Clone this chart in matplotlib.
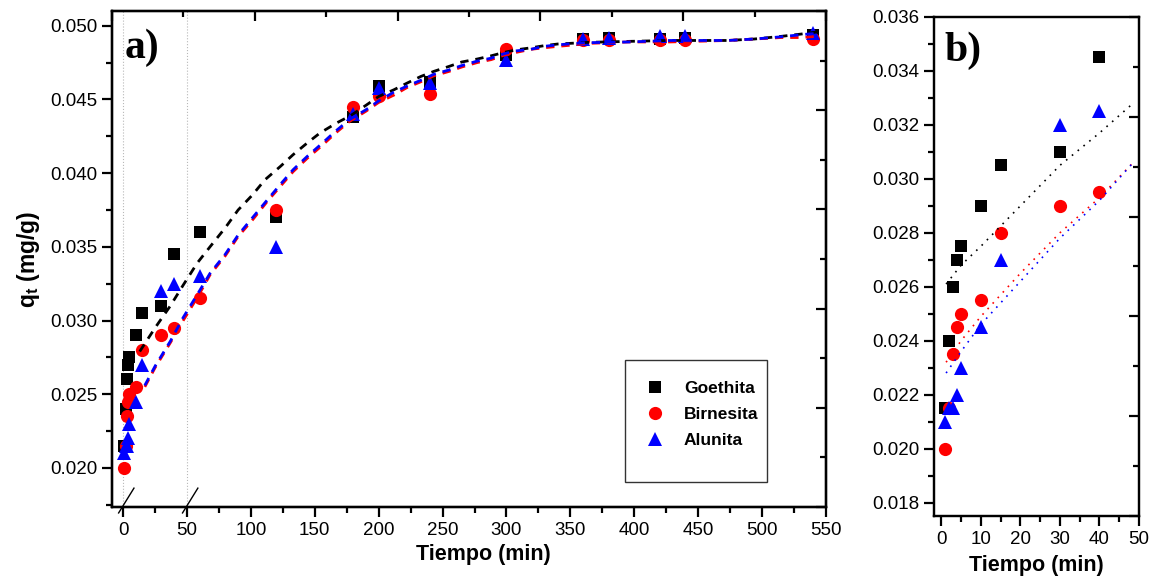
import matplotlib
matplotlib.use("Agg")
import matplotlib.pyplot as plt
from matplotlib.ticker import MultipleLocator, FormatStrFormatter
from matplotlib.lines import Line2D
import matplotlib.transforms as mtransforms

plt.rcParams["font.family"] = ["Liberation Sans", "DejaVu Sans"]
plt.rcParams["mathtext.fontset"] = "custom"
plt.rcParams["mathtext.rm"] = "Liberation Sans"
plt.rcParams["mathtext.bf"] = "Liberation Sans:bold"

# measured data (time in min, q_t in mg/g)
tiempo = [1, 2, 3, 4, 5, 10, 15, 30, 40, 60, 120, 180, 200, 240, 300, 360, 380, 420, 440, 540]
goethita = [0.0215, 0.0240, 0.0260, 0.0270, 0.0275, 0.0290, 0.0305, 0.0310, 0.0345, 0.0360,
            0.0370, 0.0438, 0.0459, 0.0462, 0.0480, 0.0491, 0.0492, 0.0491, 0.0492, 0.0494]
birnesita = [0.0200, 0.0215, 0.0235, 0.0245, 0.0250, 0.0255, 0.0280, 0.0290, 0.0295, 0.0315,
             0.0375, 0.0445, 0.0452, 0.0454, 0.0484, 0.0490, 0.0490, 0.0490, 0.0490, 0.0491]
alunita = [0.0210, 0.0215, 0.0215, 0.0220, 0.0230, 0.0245, 0.0270, 0.0320, 0.0325, 0.0330,
           0.0350, 0.0440, 0.0458, 0.0461, 0.0477, 0.0491, 0.0492, 0.0493, 0.0493, 0.0495]

# fitted curves
t_fit_goe = [13, 25, 37, 47, 58, 68, 80, 90, 101, 111, 123, 133, 144, 154, 167, 178, 190, 200,
             212, 222, 233, 243, 255, 265, 277, 288, 298, 308, 319, 329, 340, 353, 363, 396,
             428, 473, 494, 515, 531, 545]
fit_goe = [0.0279, 0.0295, 0.0310, 0.0324, 0.0339, 0.0350, 0.0363, 0.0375, 0.0385, 0.03955,
           0.04045, 0.04125, 0.04204, 0.04272, 0.0434, 0.0439, 0.0446, 0.0452, 0.04566, 0.0461,
           0.04656, 0.0469, 0.04724, 0.04754, 0.04774, 0.04796, 0.04819, 0.04837, 0.0485,
           0.04864, 0.04876, 0.04882, 0.04887, 0.04894, 0.0490, 0.0490, 0.0491, 0.04928,
           0.04944, 0.0496]
t_fit = [17, 25, 37, 47, 59, 68, 80, 90, 101, 113, 124, 133, 144, 156, 166, 177, 190, 200, 212,
         222, 233, 243, 255, 265, 277, 288, 298, 308, 319, 329, 340, 353, 363, 396, 428, 473,
         494, 515, 531, 545]
fit_bir = [0.0255, 0.0268, 0.0285, 0.0300, 0.0317, 0.0331, 0.0344, 0.0357, 0.0368, 0.0381,
           0.0392, 0.0401, 0.0410, 0.0419, 0.0427, 0.0435, 0.0442, 0.0448, 0.0453, 0.0458,
           0.0462, 0.0466, 0.0469, 0.0472, 0.0475, 0.0477, 0.0480, 0.0482, 0.0484, 0.0485,
           0.0486, 0.0487, 0.0488, 0.0489, 0.0489, 0.0490, 0.0491, 0.0492, 0.0492, 0.0493]
fit_alu = [0.0256, 0.0269, 0.0286, 0.0302, 0.0319, 0.0332, 0.0345, 0.0358, 0.03695, 0.0382,
           0.03933, 0.04023, 0.04113, 0.04204, 0.04283, 0.04362, 0.0443, 0.0449, 0.0455, 0.0459,
           0.0463, 0.0467, 0.0470, 0.0473, 0.0476, 0.0478, 0.0481, 0.0483, 0.0484, 0.0486,
           0.0487, 0.0488, 0.04885, 0.0489, 0.0490, 0.0490, 0.0491, 0.04925, 0.0494, 0.0495]

# linear-region fits
t_lin = [1.2, 5, 10, 20, 30, 40, 48.5]
lin_goe = [0.0261, 0.0268, 0.0275, 0.0290, 0.0305, 0.0317, 0.0328]
lin_bir = [0.0232, 0.0240, 0.0249, 0.0265, 0.0280, 0.0293, 0.0306]
lin_alu = [0.0228, 0.0236, 0.0246, 0.0262, 0.0278, 0.0292, 0.0306]

n_b = 9  # points with t <= 40 shown in panel b

fig = plt.figure(figsize=(11.58, 5.82), dpi=100)
ax = fig.add_axes([0.0967, 0.1289, 0.6166, 0.8522])
axb = fig.add_axes([0.8066, 0.1134, 0.1770, 0.8574])

mk = dict(linestyle="none", markeredgewidth=0)
styles = [("s", "black", 8.5, "Goethita"), ("o", "red", 9.5, "Birnesita"), ("^", "blue", 10, "Alunita")]
series = [goethita, birnesita, alunita]

# ---- panel a ----
for x0 in (0, 50):
    ax.axvline(x0, color="#b8b8b8", lw=0.8, ls=":", zorder=0)
for (m, c, s, lab), y in zip(styles, series):
    ax.plot(tiempo, y, marker=m, color=c, markersize=s, label=lab, zorder=3, **mk)
ax.plot(t_fit_goe, fit_goe, color="black", lw=2, ls=(0, (3, 2.5)), zorder=4)
ax.plot(t_fit, fit_bir, color="red", lw=2, ls=(0, (3, 2.5)), zorder=4)
ax.plot(t_fit, fit_alu, color="blue", lw=2, ls=(0, (3, 2.5)), zorder=4)

ax.set_xlim(-8.7, 550)
ax.set_ylim(0.01735, 0.05100)
ax.xaxis.set_major_locator(MultipleLocator(50))
ax.xaxis.set_minor_locator(MultipleLocator(25))
ax.yaxis.set_major_locator(MultipleLocator(0.005))
ax.yaxis.set_minor_locator(MultipleLocator(0.0025))
ax.yaxis.set_major_formatter(FormatStrFormatter("%.3f"))
ax.set_xlabel("Tiempo (min)", fontsize=15.5, fontweight="bold")
ax.xaxis.set_label_coords(0.52, -0.075)
ax.set_ylabel(r"$\mathbf{q}_\mathbf{t}$ (mg/g)", fontsize=16.5, fontweight="bold", labelpad=6)
ax.text(0.018, 0.965, "a)", transform=ax.transAxes, fontsize=30, fontweight="bold",
        family="Liberation Serif", va="top", ha="left")

# axis break marks
trans = mtransforms.blended_transform_factory(ax.transData, ax.transAxes)
for x0 in (0, 50):
    ax.add_line(Line2D([x0 - 3.5, x0 + 8.5], [-0.012, 0.038], transform=trans,
                       color="black", lw=1, clip_on=False))

handles = [Line2D([], [], marker=m, color=c, markersize=s, **mk) for m, c, s, _ in styles]
handles.append(Line2D([], [], linestyle="none"))
labels = [lab for _, _, _, lab in styles] + [" "]
leg = ax.legend(handles, labels, loc="upper left", bbox_to_anchor=(0.7185, 0.296),
                frameon=True, fancybox=False, edgecolor="black", borderpad=0.5,
                handletextpad=0.5, labelspacing=0.62, prop=dict(weight="bold", size=12.5),
                borderaxespad=0, handlelength=2.4, title=" ", title_fontsize=1.5)
leg.get_frame().set_linewidth(1)

# ---- panel b ----
for (m, c, s, lab), y in zip(styles, series):
    axb.plot(tiempo[:n_b], y[:n_b], marker=m, color=c, markersize=s, zorder=3, **mk)
axb.plot(t_lin, lin_goe, color="black", lw=1.2, ls=(0, (1, 3.5)), zorder=4)
axb.plot(t_lin, lin_bir, color="red", lw=1.2, ls=(0, (1, 3.5)), zorder=4)
axb.plot(t_lin, lin_alu, color="blue", lw=1.2, ls=(0, (1, 3.5)), zorder=4)

axb.set_xlim(-1.85, 50)
axb.set_ylim(0.0175, 0.036)
axb.xaxis.set_major_locator(MultipleLocator(10))
axb.xaxis.set_minor_locator(MultipleLocator(5))
axb.yaxis.set_major_locator(MultipleLocator(0.002))
axb.yaxis.set_minor_locator(MultipleLocator(0.001))
axb.yaxis.set_major_formatter(FormatStrFormatter("%.3f"))
axb.set_xlabel("Tiempo (min)", fontsize=15.5, fontweight="bold", labelpad=5)
axb.text(0.05, 0.97, "b)", transform=axb.transAxes, fontsize=30, fontweight="bold",
         family="Liberation Serif", va="top", ha="left")

for a in (ax, axb):
    for sp in a.spines.values():
        sp.set_linewidth(1.6)
    a.tick_params(which="major", direction="out", length=7, width=1.6, labelsize=13.5)
    a.tick_params(which="minor", direction="out", length=4, width=1.6)

# opposite-side inward ticks (Origin style)
ra = ax.twinx()
ra.set_ylim(0, 5)
ra.yaxis.set_major_locator(MultipleLocator(1))
ra.yaxis.set_minor_locator(MultipleLocator(0.5))
ta = ax.twiny()
ta.set_xlim(0, 10)
ta.xaxis.set_major_locator(MultipleLocator(2))
ta.xaxis.set_minor_locator(MultipleLocator(1))
rb = axb.twinx()
rb.set_ylim(0, 10)
rb.yaxis.set_major_locator(MultipleLocator(2))
rb.yaxis.set_minor_locator(MultipleLocator(1))
for a in (ra, ta, rb):
    for sp in a.spines.values():
        sp.set_linewidth(1.6)
    a.tick_params(which="major", direction="in", length=7, width=1.6,
                  labelright=False, labeltop=False)
    a.tick_params(which="minor", direction="in", length=4, width=1.6)

fig.savefig("out.png", dpi=100)
